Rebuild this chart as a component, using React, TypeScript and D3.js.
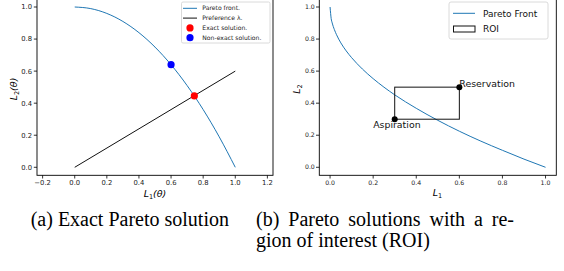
import React, { useEffect, useRef } from 'react';
import * as d3 from 'd3';

// (a) exact Pareto solution
const frontAX = [0, 0.1, 0.2, 0.3, 0.4, 0.5, 0.6, 0.7, 0.8, 0.9, 1.0];
const frontAY = [1.0, 0.99, 0.96, 0.91, 0.84, 0.75, 0.64, 0.51, 0.36, 0.19, 0.0];
const prefLine: [number, number][] = [[0, 0], [1, 0.6]];
const exactPt: [number, number] = [0.745, 0.445];
const nonExactPt: [number, number] = [0.6, 0.64];
const ticksAX = [-0.2, 0, 0.2, 0.4, 0.6, 0.8, 1.0, 1.2];
const ticksAY = [0, 0.2, 0.4, 0.6, 0.8, 1.0];
const legendA = ['Pareto front.', 'Preference λ.', 'Exact solution.', 'Non-exact solution.'];

// (b) Pareto front with ROI
const frontBX = [0, 0.005, 0.01, 0.02, 0.03, 0.05, 0.075, 0.1, 0.15, 0.2, 0.25, 0.3, 0.4, 0.5, 0.6, 0.7, 0.8, 0.9, 1.0];
const frontBY = [1.0, 0.929, 0.9, 0.859, 0.827, 0.776, 0.726, 0.684, 0.613, 0.553, 0.5, 0.452, 0.368, 0.293, 0.225, 0.163, 0.106, 0.051, 0.0];
const aspiration: [number, number] = [0.3, 0.3];
const reservation: [number, number] = [0.6, 0.5];
const ticksB = [0, 0.2, 0.4, 0.6, 0.8, 1.0];
const legendB = ['Pareto Front', 'ROI'];

const captions = ['(a) Exact Pareto solution', '(b) Pareto solutions with a re-', 'gion of interest (ROI)'];

const BLUE = '#1f77b4';
const SANS = 'DejaVu Sans';

export default function App() {
  const svgRef = useRef<SVGSVGElement>(null);

  useEffect(() => {
    if (!svgRef.current) return;
    const svg = d3.select(svgRef.current);
    svg.selectAll('*').remove();

    // ---------- left panel ----------
    const xa = d3.scaleLinear().domain([-0.235, 1.235]).range([37, 273]);
    const ya = d3.scaleLinear().domain([-0.05, 1.05]).range([175.3, -1]);
    const ga = svg.append('g');

    const lineA = d3.line<[number, number]>().x(d => xa(d[0])).y(d => ya(d[1])).curve(d3.curveMonotoneX);
    ga.append('path').attr('d', lineA(frontAX.map((x, i) => [x, frontAY[i]]))!)
      .attr('fill', 'none').attr('stroke', BLUE).attr('stroke-width', 1);
    ga.append('path').attr('d', d3.line<[number, number]>().x(d => xa(d[0])).y(d => ya(d[1]))(prefLine)!)
      .attr('fill', 'none').attr('stroke', '#111').attr('stroke-width', 1);
    ga.append('circle').attr('cx', xa(exactPt[0])).attr('cy', ya(exactPt[1])).attr('r', 3.6).attr('fill', 'red');
    ga.append('circle').attr('cx', xa(nonExactPt[0])).attr('cy', ya(nonExactPt[1])).attr('r', 3.6).attr('fill', 'blue');

    ga.append('rect').attr('x', 37).attr('y', -1).attr('width', 236).attr('height', 176.3)
      .attr('fill', 'none').attr('stroke', '#000').attr('stroke-width', 0.9);

    ticksAX.forEach(t => {
      ga.append('line').attr('x1', xa(t)).attr('x2', xa(t)).attr('y1', 175.3).attr('y2', 178.5).attr('stroke', '#000').attr('stroke-width', 0.8);
      ga.append('text').attr('x', xa(t)).attr('y', 185).attr('text-anchor', 'middle')
        .attr('font-family', SANS).attr('font-size', 6.8).attr('fill', '#222').text(t.toFixed(1).replace('-', '−'));
    });
    ticksAY.forEach(t => {
      ga.append('line').attr('x1', 33.8).attr('x2', 37).attr('y1', ya(t)).attr('y2', ya(t)).attr('stroke', '#000').attr('stroke-width', 0.8);
      ga.append('text').attr('x', 32).attr('y', ya(t) + 2.4).attr('text-anchor', 'end')
        .attr('font-family', SANS).attr('font-size', 6.8).attr('fill', '#222').text(t.toFixed(1));
    });

    const labA = ga.append('text').attr('x', 155).attr('y', 197).attr('text-anchor', 'middle')
      .attr('font-family', SANS).attr('font-size', 9.5).attr('font-style', 'italic');
    labA.append('tspan').text('L');
    labA.append('tspan').attr('font-size', 6.5).attr('dy', 2).attr('font-style', 'normal').text('1');
    labA.append('tspan').attr('dy', -2).text('(θ)');

    const labAY = ga.append('text').attr('transform', 'translate(17,89) rotate(-90)').attr('text-anchor', 'middle')
      .attr('font-family', SANS).attr('font-size', 9.5).attr('font-style', 'italic');
    labAY.append('tspan').text('L');
    labAY.append('tspan').attr('font-size', 6.5).attr('dy', 2).attr('font-style', 'normal').text('2');
    labAY.append('tspan').attr('dy', -2).text('(θ)');

    // legend a
    ga.append('rect').attr('x', 181.5).attr('y', 2).attr('width', 88.5).attr('height', 41).attr('rx', 1.5)
      .attr('fill', 'white').attr('fill-opacity', 0.8).attr('stroke', '#d0d0d0').attr('stroke-width', 0.8);
    legendA.forEach((name, i) => {
      const yy = 8.3 + i * 9.8;
      if (i === 0) ga.append('line').attr('x1', 183).attr('x2', 197).attr('y1', yy).attr('y2', yy).attr('stroke', BLUE).attr('stroke-width', 1);
      if (i === 1) ga.append('line').attr('x1', 183).attr('x2', 197).attr('y1', yy).attr('y2', yy).attr('stroke', '#111').attr('stroke-width', 1);
      if (i === 2) ga.append('circle').attr('cx', 190).attr('cy', yy).attr('r', 3.6).attr('fill', 'red');
      if (i === 3) ga.append('circle').attr('cx', 190).attr('cy', yy).attr('r', 3.6).attr('fill', 'blue');
      ga.append('text').attr('x', 202.3).attr('y', yy + 2.1).attr('font-family', SANS).attr('font-size', 6.1).attr('fill', '#222').text(name);
    });

    // ---------- right panel ----------
    const xb = d3.scaleLinear().domain([-0.05, 1.05]).range([319.3, 556.3]);
    const yb = ya;
    const gb = svg.append('g');

    const lineB = d3.line<[number, number]>().x(d => xb(d[0])).y(d => yb(d[1])).curve(d3.curveMonotoneX);
    gb.append('path').attr('d', lineB(frontBX.map((x, i) => [x, frontBY[i]]))!)
      .attr('fill', 'none').attr('stroke', BLUE).attr('stroke-width', 1);

    gb.append('rect').attr('x', xb(aspiration[0])).attr('y', yb(reservation[1]))
      .attr('width', xb(reservation[0]) - xb(aspiration[0])).attr('height', yb(aspiration[1]) - yb(reservation[1]))
      .attr('fill', 'none').attr('stroke', '#111').attr('stroke-width', 1);
    [aspiration, reservation].forEach(p => {
      gb.append('circle').attr('cx', xb(p[0])).attr('cy', yb(p[1])).attr('r', 3).attr('fill', '#000');
    });
    gb.append('text').attr('x', xb(reservation[0])).attr('y', yb(reservation[1])).attr('font-family', SANS)
      .attr('font-size', 9.4).attr('fill', '#111').text('Reservation');
    gb.append('text').attr('x', xb(0.2)).attr('y', yb(0.248)).attr('font-family', SANS)
      .attr('font-size', 9.4).attr('fill', '#111').text('Aspiration');

    gb.append('rect').attr('x', 319.3).attr('y', -1).attr('width', 237).attr('height', 176.3)
      .attr('fill', 'none').attr('stroke', '#000').attr('stroke-width', 0.9);

    ticksB.forEach(t => {
      gb.append('line').attr('x1', xb(t)).attr('x2', xb(t)).attr('y1', 175.3).attr('y2', 178.5).attr('stroke', '#000').attr('stroke-width', 0.8);
      gb.append('text').attr('x', xb(t)).attr('y', 184.5).attr('text-anchor', 'middle')
        .attr('font-family', SANS).attr('font-size', 6.2).attr('fill', '#222').text(t.toFixed(1));
      gb.append('line').attr('x1', 316).attr('x2', 319.3).attr('y1', yb(t)).attr('y2', yb(t)).attr('stroke', '#000').attr('stroke-width', 0.8);
      gb.append('text').attr('x', 314.8).attr('y', yb(t) + 2.2).attr('text-anchor', 'end')
        .attr('font-family', SANS).attr('font-size', 6.2).attr('fill', '#222').text(t.toFixed(1));
    });

    const labB = gb.append('text').attr('x', 437.5).attr('y', 196).attr('text-anchor', 'middle')
      .attr('font-family', SANS).attr('font-size', 9.5).attr('font-style', 'italic');
    labB.append('tspan').text('L');
    labB.append('tspan').attr('font-size', 6.5).attr('dy', 2).attr('font-style', 'normal').text('1');

    const labBY = gb.append('text').attr('transform', 'translate(300,89) rotate(-90)').attr('text-anchor', 'middle')
      .attr('font-family', SANS).attr('font-size', 9.5).attr('font-style', 'italic');
    labBY.append('tspan').text('L');
    labBY.append('tspan').attr('font-size', 6.5).attr('dy', 2).attr('font-style', 'normal').text('2');

    // legend b
    gb.append('rect').attr('x', 449).attr('y', 2).attr('width', 99).attr('height', 37).attr('rx', 2)
      .attr('fill', 'white').attr('fill-opacity', 0.8).attr('stroke', '#d0d0d0').attr('stroke-width', 0.8);
    gb.append('line').attr('x1', 453).attr('x2', 475).attr('y1', 13.3).attr('y2', 13.3).attr('stroke', BLUE).attr('stroke-width', 1);
    gb.append('rect').attr('x', 453.5).attr('y', 26).attr('width', 21.5).attr('height', 6).attr('fill', 'none').attr('stroke', '#111').attr('stroke-width', 1);
    legendB.forEach((name, i) => {
      gb.append('text').attr('x', 483).attr('y', 16.5 + i * 15.7).attr('font-family', SANS).attr('font-size', 9).attr('fill', '#111').text(name);
    });

    // ---------- captions ----------
    const SERIF = 'Liberation Serif, Times New Roman, serif';
    svg.append('text').attr('x', 30.7).attr('y', 225.7).attr('font-family', SERIF).attr('font-size', 20).attr('fill', '#000').text(captions[0]);
    const capB = svg.append('text').attr('x', 256).attr('y', 225.7).attr('font-family', SERIF).attr('font-size', 20).attr('fill', '#000')
      .text(captions[1]);
    // justified line: spread the extra room over the word gaps
    const natural = (capB.node() as SVGTextElement).getComputedTextLength();
    const gaps = captions[1].split(' ').length - 1;
    if (natural < 258) capB.attr('word-spacing', (258 - natural) / gaps);
    svg.append('text').attr('x', 256).attr('y', 246.7).attr('font-family', SERIF).attr('font-size', 20).attr('fill', '#000').text(captions[2]);
  }, []);

  return <svg ref={svgRef} width={564} height={271} viewBox="0 0 564 271"
    style={{ position: 'absolute', left: 0, top: 0, background: '#fff' }} />;
}
